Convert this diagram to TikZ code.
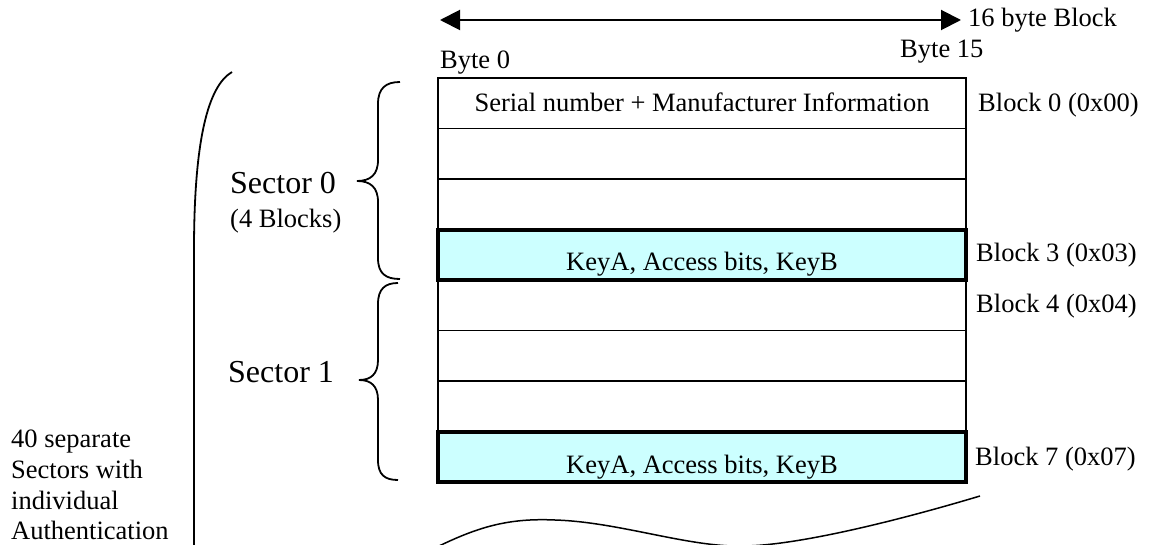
\documentclass[tikz,border=0pt]{standalone}
\usepackage{fontspec}
\setmainfont{Liberation Serif}
\usetikzlibrary{arrows.meta}
\begin{document}
\begin{tikzpicture}[x=1pt,y=-1pt,
  lbl/.style={inner sep=0pt,anchor=base west,font=\fontsize{26.5}{31}\selectfont},
  ctxt/.style={inner sep=0pt,anchor=base,font=\fontsize{26.5}{31}\selectfont},
  big/.style={inner sep=0pt,anchor=base west,font=\fontsize{32}{38}\selectfont},
  row/.style={draw,line width=1.5pt,minimum width=528pt,minimum height=50.5pt,inner sep=0pt},
  keyrow/.style={draw,line width=4pt,fill={rgb,255:red,204;green,255;blue,255},minimum width=528pt,minimum height=50.5pt,inner sep=0pt},
  brace/.style={line width=1.8pt},
  >={Triangle[length=20pt,width=20pt]}]
\useasboundingbox (0,0) rectangle (1176,545);
% rows
\node[row] (r0) at (702,103.5) {};
\node[row] (r1) at (702,154) {};
\node[row] (r2) at (702,204.5) {};
\node[row] (r4) at (702,305.5) {};
\node[row] (r5) at (702,356) {};
\node[row] (r6) at (702,406.5) {};
\node[keyrow] (r3) at (702,255) {};
\node[keyrow] (r7) at (702,457) {};
\node[ctxt] (t0) at (702,112) {Serial number + Manufacturer Information};
\node[ctxt] (t3) at (702,271) {KeyA, Access bits, KeyB};
\node[ctxt] (t7) at (702,473) {KeyA, Access bits, KeyB};
% top arrow
\coordinate (aL) at (440,20);
\coordinate (aR) at (961,20);
\draw[line width=2pt,<->] (aL) -- (aR);
\node[lbl,anchor=west] (bb) at (968,20) {16 byte Block};
\node[lbl] (b0) at (440,69) {Byte 0};
\node[lbl] (b15) at (900,58) {Byte 15};
% block labels
\node[lbl] (l0) at (978,112) {Block 0 (0x00)};
\node[lbl] (l3) at (976,262) {Block 3 (0x03)};
\node[lbl] (l4) at (976,313) {Block 4 (0x04)};
\node[lbl] (l7) at (975,465) {Block 7 (0x07)};
% sector labels
\node[big] (s0) at (230,194) {Sector 0};
\node[lbl] (s0b) at (230,228) {(4 Blocks)};
\node[big] (s1) at (228,382) {Sector 1};
% left text
\node[lbl] (n1) at (11,447) {40 separate};
\node[lbl] (n2) at (11,478) {Sectors with};
\node[lbl] (n3) at (11,509) {individual};
\node[lbl] (n4) at (11,539) {Authentication};
% braces
\draw[brace] (400,82) .. controls (386,82) and (378,88) .. (378,104) -- (378,160)
  .. controls (378,175) and (370,181) .. (357,181)
  .. controls (370,181) and (378,187) .. (378,202) -- (378,258)
  .. controls (378,274) and (386,279) .. (400,279);
\draw[brace] (398,283) .. controls (385,283) and (378,289) .. (378,304) -- (378,360)
  .. controls (378,374) and (371,380) .. (359,380)
  .. controls (371,380) and (378,386) .. (378,400) -- (378,460)
  .. controls (378,475) and (385,480) .. (398,480);
\draw[brace] (194,546) -- (194,250) .. controls (194,140) and (208,86) .. (232,72);
% wave
\draw[line width=1.5pt] (437,547) .. controls (480,526) and (510,518) .. (555,520)
  .. controls (620,522) and (690,548) .. (745,546)
  .. controls (800,545) and (900,520) .. (980,496);
\end{tikzpicture}
\end{document}
